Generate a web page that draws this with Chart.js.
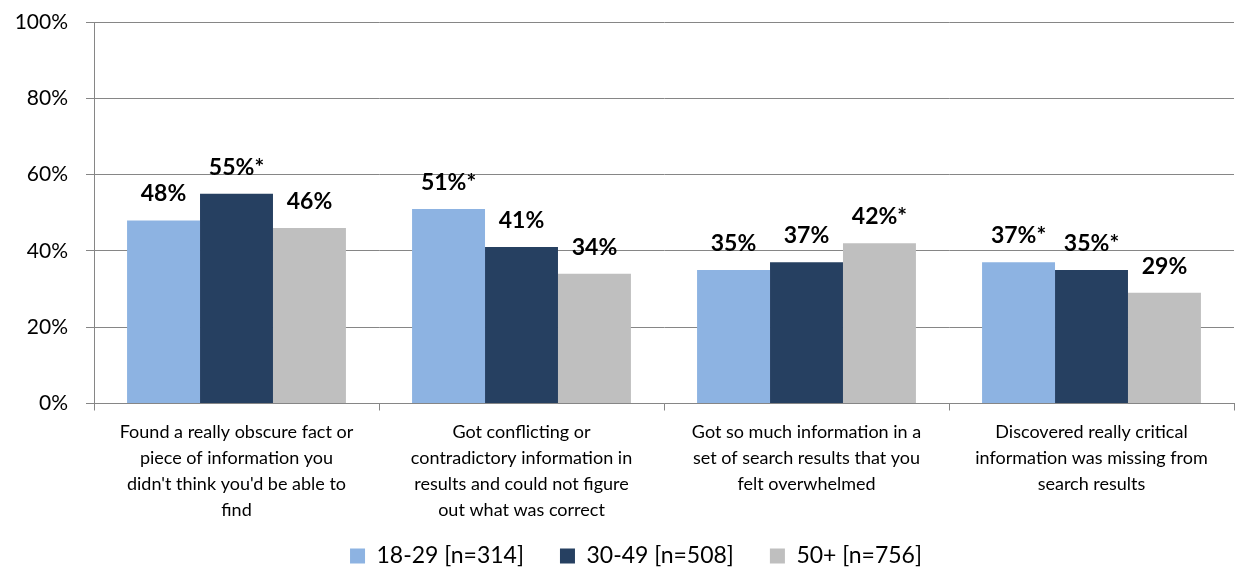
<!DOCTYPE html>
<html>
<head>
<meta charset="utf-8">
<script src="https://cdn.jsdelivr.net/npm/chart.js@4/dist/chart.umd.min.js"></script>
<style>
  html, body { margin: 0; padding: 0; background: #fff; }
  #wrap { width: 1239px; height: 567px; }
</style>
</head>
<body>
<div id="wrap"><canvas id="searchChart"></canvas></div>
<script>
// categorias (eixo x), quebradas em linhas como no original
const categories = [
  ["Found a really obscure fact or", "piece of information you", "didn't think you'd be able to", "find"],
  ["Got conflicting or", "contradictory information in", "results and could not figure", "out what was correct"],
  ["Got so much information in a", "set of search results that you", "felt overwhelmed"],
  ["Discovered really critical", "information was missing from", "search results"]
];
const seriesNames = ["18-29 [n=314]", "30-49 [n=508]", "50+ [n=756]"];
const age18to29 = [48, 51, 35, 37];
const age30to49 = [55, 41, 37, 35];
const age50plus = [46, 34, 42, 29];
// asterisco = diferença significativa
const star18to29 = [false, true, false, true];
const star30to49 = [true, false, false, true];
const star50plus = [false, false, true, false];
const yTicks = [0, 20, 40, 60, 80, 100];

const colors = ["#8DB3E2", "#264061", "#BFBFBF"];
const gridColor = "#868686";

/* rótulos de valor acima das barras */
const valueLabels = {
  id: "valueLabels",
  afterDatasetsDraw(chart) {
    const ctx = chart.ctx;
    const stars = [star18to29, star30to49, star50plus];
    ctx.save();
    ctx.font = "bold 23px Lato";
    ctx.fillStyle = "#000";
    ctx.textAlign = "center";
    ctx.textBaseline = "alphabetic";
    chart.data.datasets.forEach((ds, i) => {
      chart.getDatasetMeta(i).data.forEach((bar, j) => {
        const txt = ds.data[j] + "%" + (stars[i][j] ? "*" : "");
        ctx.fillText(txt, bar.x, bar.y - 19);
      });
    });
    ctx.restore();
  }
};

/* legenda: altura fixa e posição ajustada */
const legendTweak = {
  id: "legendTweak",
  afterInit(chart) {
    const lg = chart.legend;
    const fit = lg.fit;
    lg.fit = function () {
      fit.call(this);
      this.height = 38.5;
    };
  },
  afterLayout(chart) {
    const lg = chart.legend;
    lg.left += 38;
    lg.top -= 20;
    lg.bottom = chart.height;
  }
};

document.addEventListener("DOMContentLoaded", function () {
  const ctx = document.getElementById("searchChart").getContext("2d");
  new Chart(ctx, {
    type: "bar",
    data: {
      labels: categories,
      datasets: [
        { label: seriesNames[0], data: age18to29, backgroundColor: colors[0] },
        { label: seriesNames[1], data: age30to49, backgroundColor: colors[1] },
        { label: seriesNames[2], data: age50plus, backgroundColor: colors[2] }
      ]
    },
    options: {
      responsive: true,
      maintainAspectRatio: false,
      animation: false,
      categoryPercentage: 0.768,
      barPercentage: 1,
      layout: { padding: { top: 22, right: 5, left: 0, bottom: 0 } },
      plugins: {
        title: { display: false },
        tooltip: { enabled: false },
        legend: {
          position: "bottom",
          labels: {
            boxWidth: 15,
            boxHeight: 15,
            padding: 36,
            color: "#000",
            font: { family: "Lato", size: 23 }
          }
        }
      },
      scales: {
        x: {
          grid: {
            drawOnChartArea: false,
            drawTicks: true,
            tickLength: 7,
            color: gridColor
          },
          border: { color: gridColor, width: 1 },
          ticks: {
            color: "#000",
            padding: 9,
            maxRotation: 0,
            autoSkip: false,
            font: { family: "Lato", size: 18, lineHeight: 1.44 }
          },
          afterFit: (s) => { s.height = 125; }
        },
        y: {
          min: 0,
          max: 100,
          afterBuildTicks: (s) => { s.ticks = yTicks.map((v) => ({ value: v })); },
          grid: { color: gridColor, lineWidth: 1, tickLength: 8 },
          border: { color: gridColor, width: 1 },
          ticks: {
            color: "#000",
            padding: 18,
            font: { family: "Lato", size: 21 },
            callback: (v) => v + "%"
          },
          afterFit: (s) => {
            s.width = 94;
            s.paddingTop = 10;
            s.paddingBottom = 10;
          }
        }
      }
    },
    plugins: [valueLabels, legendTweak]
  });
});
</script>
</body>
</html>
